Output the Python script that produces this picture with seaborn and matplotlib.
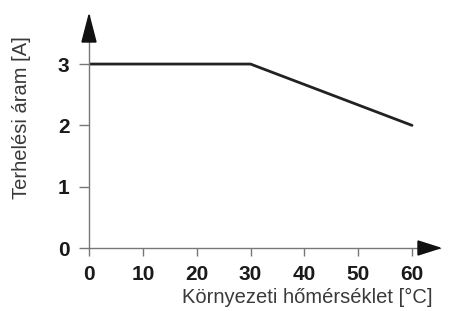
import matplotlib
matplotlib.use("Agg")
import matplotlib.pyplot as plt
import seaborn as sns
import pandas as pd
from matplotlib.patches import Polygon

temperature = [0, 30, 60]
current = [3, 3, 2]
xticks = [0, 10, 20, 30, 40, 50, 60]
yticks = [0, 1, 2, 3]

sns.set_style("white")
plt.rcParams['font.family'] = ['Liberation Sans', 'DejaVu Sans']

df = pd.DataFrame({"t": temperature, "i": current})

fig = plt.figure(figsize=(4.5, 3.11), dpi=100)
W, H = 450, 311
x0, y0, x1, y1 = 89, 248, 440, 15
ax = fig.add_axes([x0 / W, (H - y0) / H, (x1 - x0) / W, (y0 - y1) / H])

sns.lineplot(data=df, x="t", y="i", ax=ax, color="#222222", linewidth=2.0)

ax.set_xlim(0, 65.2)
ax.set_ylim(0, 3.8)
ax.set_xticks(xticks)
ax.set_yticks(yticks)
ax.set_xticklabels([str(v) for v in xticks], fontweight="bold", fontsize=15, color="#1a1a1a")
ax.set_yticklabels([str(v) for v in yticks], fontweight="bold", fontsize=15, color="#1a1a1a")

for s in ["top", "right"]:
    ax.spines[s].set_visible(False)
for s in ["left", "bottom"]:
    ax.spines[s].set_color("#777777")
    ax.spines[s].set_linewidth(1.0)

ax.tick_params(axis="x", direction="out", length=6, width=1.0, color="#777777", pad=6, bottom=True)
ax.tick_params(axis="y", direction="out", length=7, width=1.0, color="#777777", pad=7, left=True)

ax.set_xlabel("Környezeti hőmérséklet [°C]", fontsize=14.5, color="#3a3a3a")
ax.xaxis.set_label_coords(0.98, -0.172)
ax.xaxis.label.set_horizontalalignment("right")
ax.xaxis.label.set_verticalalignment("top")
ax.set_ylabel("Terhelési áram [A]", fontsize=14.5, color="#3a3a3a")
ax.yaxis.set_label_coords(-0.165, 0.558)

aw, ah = (x1 - x0), (y0 - y1)
# vertical arrow head
ax.add_patch(Polygon([(0, 1), (-7 / aw, 1 - 27 / ah), (7 / aw, 1 - 27 / ah)],
                     closed=True, transform=ax.transAxes, color="#111111", clip_on=False, zorder=5))
# horizontal arrow head
ax.add_patch(Polygon([(1, 0), (1 - 22 / aw, 7 / ah), (1 - 22 / aw, -7 / ah)],
                     closed=True, transform=ax.transAxes, color="#111111", clip_on=False, zorder=5))

fig.savefig("out.png", dpi=100)
